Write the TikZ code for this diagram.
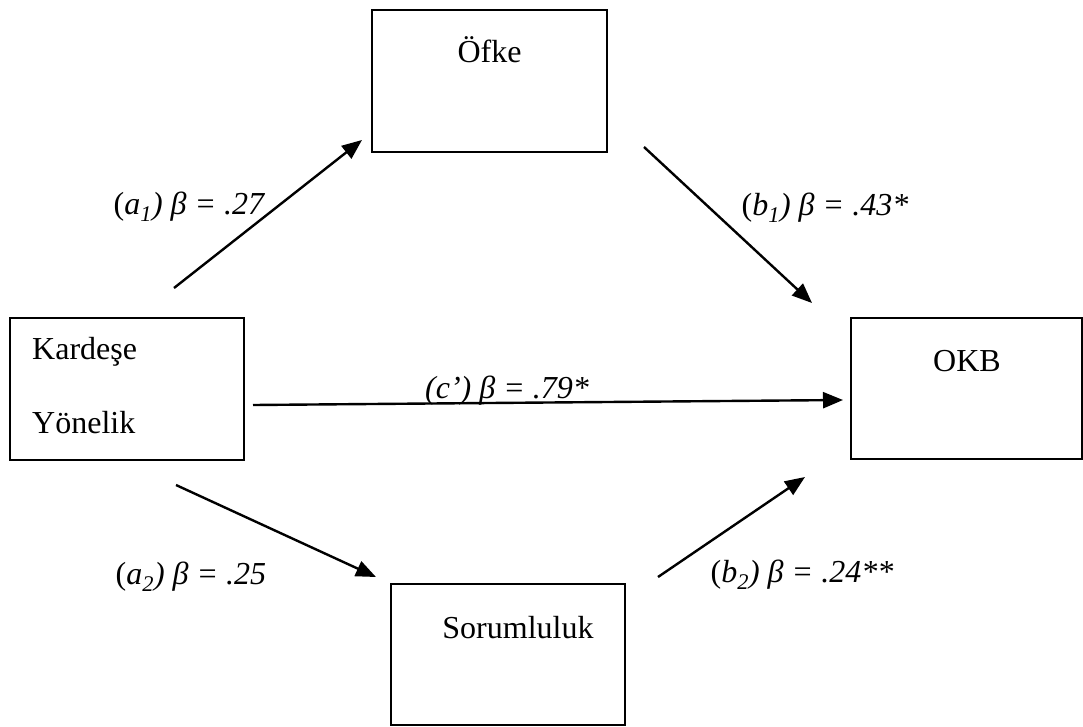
\documentclass[tikz,border=0pt]{standalone}
\usepackage{fontspec}
\setmainfont{Liberation Serif}
\usetikzlibrary{arrows.meta}
\begin{document}
\begin{tikzpicture}[x=1pt,y=-1pt,
  varbox/.style={draw=black, line width=2.4pt, inner sep=0pt, fill=none},
  vartext/.style={inner sep=0pt, font=\fontsize{32}{38}\selectfont},
  pathlabel/.style={inner sep=0pt, font=\fontsize{32}{38}\selectfont\itshape},
  effect/.style={line width=2.4pt, -{Triangle[length=20pt,width=16pt]}}
]
\useasboundingbox (0,0) rectangle (1083,726);

% variable boxes
\node[varbox, minimum width=235pt, minimum height=142pt] (ofke) at (489.5,81) {};
\node[varbox, minimum width=234pt, minimum height=142pt] (kardese) at (127,389) {};
\node[varbox, minimum width=231pt, minimum height=141pt] (okb) at (966.5,388.5) {};
\node[varbox, minimum width=234pt, minimum height=141pt] (sorum) at (508,654.5) {};

% box texts
\node[vartext, anchor=base] (ofkeT) at (489.5,62) {Öfke};
\node[vartext, anchor=base west] (kardeseT) at (32,359) {Kardeşe};
\node[vartext, anchor=base west] (yonelikT) at (32,433) {Yönelik};
\node[vartext, anchor=base] (okbT) at (967,371) {OKB};
\node[vartext, anchor=base] (sorumT) at (518,638) {Sorumluluk};

% arrow end points
\coordinate (a1s) at (174,288);
\coordinate (a1e) at (362,140);
\coordinate (b1s) at (644,147);
\coordinate (b1e) at (812,303);
\coordinate (cs) at (253,405);
\coordinate (ce) at (843,400);
\coordinate (a2s) at (176,485);
\coordinate (a2e) at (376,577);
\coordinate (b2s) at (658,577);
\coordinate (b2e) at (805,477);

\draw[effect] (a1s) -- (a1e);
\draw[effect] (b1s) -- (b1e);
\draw[effect] (cs) -- (ce);
\draw[effect] (a2s) -- (a2e);
\draw[effect] (b2s) -- (b2e);

% path coefficients
\node[pathlabel] (la1) at (189,207) {\upshape(\itshape a\textsubscript{1}) β = .27};
\node[pathlabel] (lb1) at (825,208) {\upshape(\itshape b\textsubscript{1}) β = .43*};
\node[pathlabel, anchor=base] (lc) at (507,398) {(c’) β = .79*};
\node[pathlabel] (la2) at (191,577) {\upshape(\itshape a\textsubscript{2}) β = .25};
\node[pathlabel] (lb2) at (802,575) {\upshape(\itshape b\textsubscript{2}) β = .24**};
\end{tikzpicture}
\end{document}
